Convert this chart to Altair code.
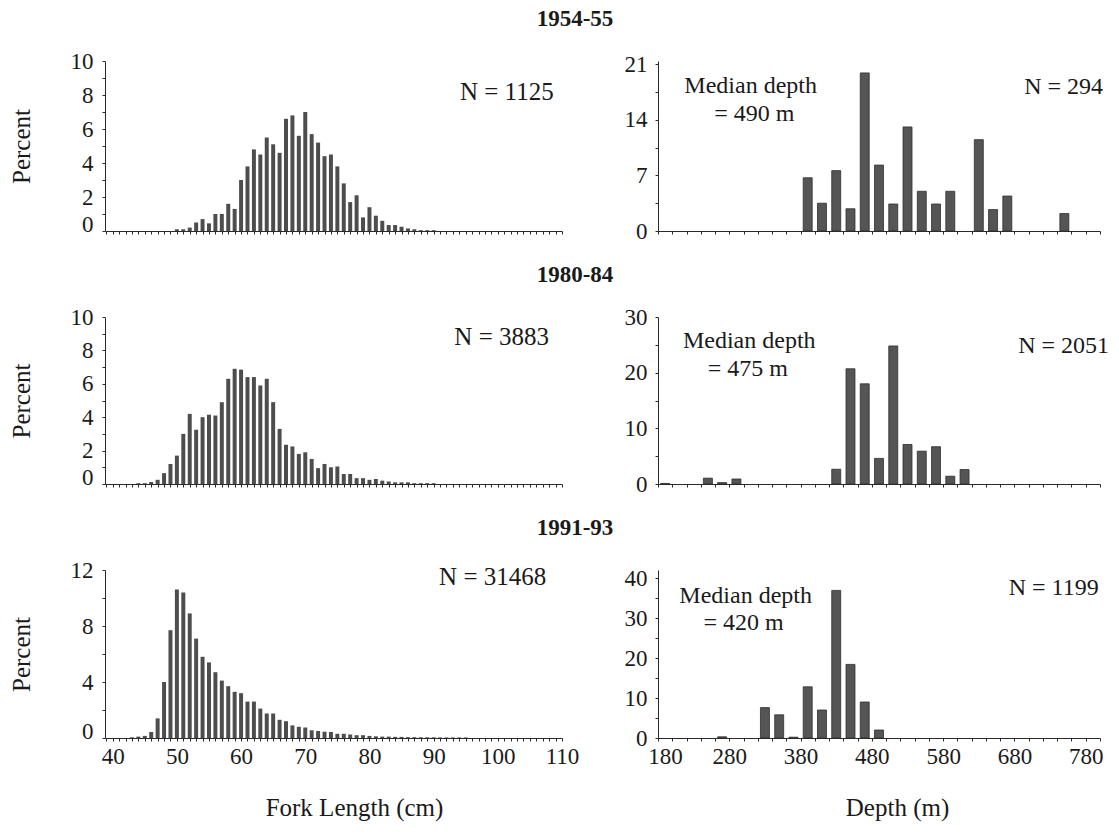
import altair as alt
import pandas as pd

# ---------------- data ----------------
# Fork-length distributions (percent per 1-cm class)
fl54_cm = list(range(50, 91))
fl54_pct = [0.1, 0.1, 0.2, 0.5, 0.7, 0.45, 1.0, 1.0, 1.6, 1.3,
            3.0, 3.8, 4.8, 4.5, 5.5, 5.1, 4.6, 6.6, 6.8, 5.6,
            7.0, 5.7, 5.2, 4.4, 4.5, 3.8, 2.8, 1.7, 2.1, 0.8,
            1.4, 0.9, 0.6, 0.35, 0.35, 0.25, 0.15, 0.1, 0.05, 0.05, 0.05]

fl80_cm = list(range(44, 91))
fl80_pct = [0.05, 0.05, 0.12, 0.25, 0.65, 1.2, 1.7, 3.0, 4.2, 3.25,
            4.0, 4.15, 4.1, 4.9, 6.3, 6.9, 6.85, 6.4, 6.4, 5.9,
            6.3, 4.9, 3.3, 2.35, 2.25, 1.8, 1.9, 1.5, 0.95, 1.2,
            1.0, 1.05, 0.6, 0.6, 0.35, 0.35, 0.25, 0.3, 0.2, 0.15,
            0.1, 0.1, 0.1, 0.05, 0.05, 0.05, 0.05]

fl91_cm = list(range(43, 96))
fl91_pct = [0.05, 0.1, 0.15, 0.43, 1.4, 4.0, 7.7, 10.6, 10.4, 8.9,
            7.1, 5.8, 5.4, 4.7, 4.1, 3.7, 3.3, 3.2, 2.6, 2.6,
            2.1, 1.75, 1.75, 1.3, 1.2, 0.9, 0.8, 0.75, 0.55, 0.5,
            0.45, 0.43, 0.3, 0.3, 0.25, 0.2, 0.2, 0.15, 0.12, 0.1,
            0.1, 0.08, 0.08, 0.06, 0.06, 0.05, 0.05, 0.05, 0.04, 0.04,
            0.04, 0.04, 0.04]

# Depth distributions (percent per 20-m class, class start in m)
d54_start = [380, 400, 420, 440, 460, 480, 500, 520, 540, 560, 580, 620, 640, 660, 740]
d54_pct = [6.7, 3.5, 7.6, 2.8, 19.9, 8.3, 3.4, 13.1, 5.0, 3.4, 5.0, 11.5, 2.7, 4.4, 2.2]

d80_start = [180, 240, 260, 280, 420, 440, 460, 480, 500, 520, 540, 560, 580, 600]
d80_pct = [0.1, 1.05, 0.25, 0.9, 2.65, 20.7, 18.0, 4.6, 24.8, 7.1, 5.9, 6.7, 1.4, 2.6]

d91_start = [260, 320, 340, 360, 380, 400, 420, 440, 460, 480]
d91_pct = [0.3, 7.6, 5.8, 0.2, 12.8, 7.0, 36.9, 18.4, 9.0, 2.0]

periods = ["1954-55", "1980-84", "1991-93"]
n_fork = ["N = 1125", "N = 3883", "N = 31468"]
n_depth = ["N = 294", "N = 2051", "N = 1199"]
median_text = ["= 490 m", "= 475 m", "= 420 m"]

# text anchor positions (data units)
n_fork_x = [101.4, 100.6, 99.2]
n_fork_y = [8.2, 8.8, 11.5]
n_depth_x = [749, 749, 735]
n_depth_y = [18.1, 24.8, 37.6]
med_x = [310, 308, 303]
med_eq_x = [315, 306, 300]
med_y = [18.2, 25.7, 35.4]
med_eq_y = [14.7, 20.6, 28.8]

# ---------------- styling ----------------
FONT = "Liberation Serif"
TXT = "#1a1a1a"
AX = "#2a2a2a"
WL, WR = 457, 442
HEIGHTS = [170, 167, 168]
LEFT_DOMAIN = [38.8, 110]
RIGHT_DOMAIN = [180, 800]
left_ymax = [10, 10, 12]
left_tick = [1, 1, 2]
left_lab = [2, 2, 4]
right_ymax = [21.4, 30, 42]
right_ticks = [[0, 3.5, 7, 10.5, 14, 17.5, 21],
               [0, 5, 10, 15, 20, 25, 30],
               [0, 5, 10, 15, 20, 25, 30, 35, 40]]
right_lab = [7, 10, 10]


def lab_expr(test):
    return f"({test}) ? '' + datum.value : ''"


def fork_panel(i):
    bottom = i == 2
    h = HEIGHTS[i]
    df = pd.DataFrame({"cm": [fl54_cm, fl80_cm, fl91_cm][i],
                       "pct": [fl54_pct, fl80_pct, fl91_pct][i]})
    df["lo"] = df["cm"] - 0.31
    df["hi"] = df["cm"] + 0.31

    xkw = dict(values=list(range(39, 111)), tickCount=500, tickSize=3, labelPadding=4,
               labelOverlap=False, labelFlush=False)
    if bottom:
        xkw.update(labelExpr=lab_expr("datum.value % 10 == 0"),
                   titleX=249, titleY=69, titleBaseline="middle")
    else:
        xkw.update(labels=False)
    xaxis = alt.Axis(**xkw)

    yvals = list(range(0, left_ymax[i] + 1, left_tick[i]))
    yaxis = alt.Axis(values=yvals, tickCount=500, tickSize=3, labelPadding=9, labelOverlap=False,
                     labelExpr=lab_expr(f"datum.value % {left_lab[i]} == 0"),
                     labelOffset={"condition": {"test": "datum.value == 0", "value": -7}, "value": 0},
                     titleX=-84, titleY=h / 2, titleBaseline="middle", titleAlign="center")

    bars = alt.Chart(df).mark_bar(color="#4d4d4d").encode(
        x=alt.X("lo:Q", scale=alt.Scale(domain=LEFT_DOMAIN, nice=False, zero=False), axis=xaxis,
                title="Fork Length (cm)" if bottom else None),
        x2="hi:Q",
        y=alt.Y("pct:Q", scale=alt.Scale(domain=[0, left_ymax[i]], nice=False), axis=yaxis,
                title="Percent"),
        y2=alt.datum(0),
    )
    ndf = pd.DataFrame({"x": [n_fork_x[i]], "y": [n_fork_y[i]], "t": [n_fork[i]]})
    ntext = alt.Chart(ndf).mark_text(font=FONT, fontSize=25, color=TXT).encode(
        x="x:Q", y="y:Q", text="t:N")
    tdf = pd.DataFrame({"t": [periods[i]]})
    ttext = alt.Chart(tdf).mark_text(font=FONT, fontSize=23, fontWeight="bold", color=TXT).encode(
        x=alt.value(470), y=alt.value(-42), text="t:N")
    return alt.layer(bars, ntext, ttext).properties(width=WL, height=h)


def depth_panel(i):
    bottom = i == 2
    h = HEIGHTS[i]
    df = pd.DataFrame({"start": [d54_start, d80_start, d91_start][i],
                       "pct": [d54_pct, d80_pct, d91_pct][i]})
    df["lo"] = df["start"] + 3.7
    df["hi"] = df["start"] + 16.3

    xkw = dict(values=list(range(180, 801, 20)), tickCount=500, tickSize=3, labelPadding=4,
               labelOverlap=False, labelFlush=False)
    if bottom:
        xkw.update(labelExpr=lab_expr("(datum.value - 180) % 100 == 0"),
                   labelOffset={"condition": {"test": "datum.value == 180", "value": 7}, "value": 0},
                   titleX=239, titleY=69, titleBaseline="middle")
    else:
        xkw.update(labels=False)
    xaxis = alt.Axis(**xkw)

    yaxis = alt.Axis(values=right_ticks[i], tickCount=500, tickSize=3, labelPadding=8,
                     labelOverlap=False,
                     labelExpr=lab_expr(f"datum.value % {right_lab[i]} == 0"))

    bars = alt.Chart(df).mark_bar(color="#555555", stroke="#2e2e2e", strokeWidth=0.8).encode(
        x=alt.X("lo:Q", scale=alt.Scale(domain=RIGHT_DOMAIN, nice=False, zero=False), axis=xaxis,
                title="Depth (m)" if bottom else None),
        x2="hi:Q",
        y=alt.Y("pct:Q", scale=alt.Scale(domain=[0, right_ymax[i]], nice=False), axis=yaxis,
                title=None),
        y2=alt.datum(0),
    )
    tdf = pd.DataFrame({"x": [med_x[i], med_eq_x[i], n_depth_x[i]],
                        "y": [med_y[i], med_eq_y[i], n_depth_y[i]],
                        "t": ["Median depth", median_text[i], n_depth[i]]})
    texts = alt.Chart(tdf).mark_text(font=FONT, fontSize=24, color=TXT).encode(
        x="x:Q", y="y:Q", text="t:N")
    return alt.layer(bars, texts).properties(width=WR, height=h)


panels = []
for r in range(3):
    panels.append(fork_panel(r))
    panels.append(depth_panel(r))

chart = alt.concat(
    *panels, columns=2, spacing={"row": 21, "column": 10}, align="each", bounds="full"
).properties(
    padding={"left": 8, "top": 8, "right": 5, "bottom": 5}
).configure_view(
    strokeWidth=0
).configure_axis(
    grid=False,
    domainColor=AX, tickColor=AX, domainWidth=1, tickWidth=1,
    labelFont=FONT, labelFontSize=23, labelColor=TXT,
    titleFont=FONT, titleFontSize=25, titleFontWeight="normal", titleColor=TXT,
)

chart.save("out.html", embed_options={"renderer": "svg", "actions": False})
